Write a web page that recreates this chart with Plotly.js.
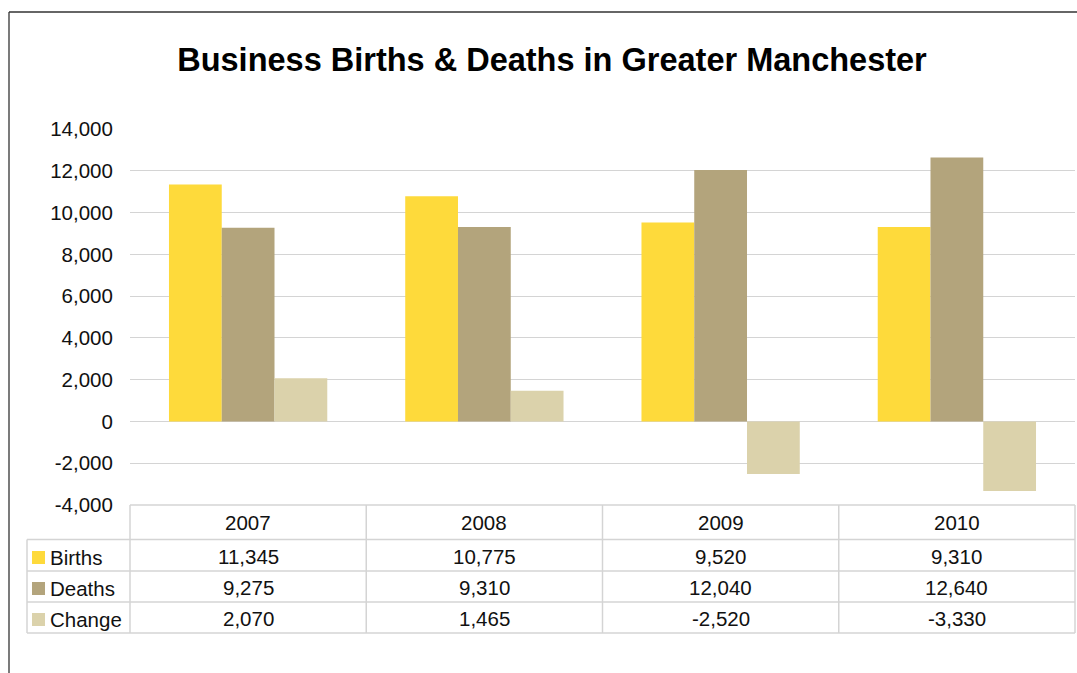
<!DOCTYPE html>
<html>
<head>
<meta charset="utf-8">
<script src="https://cdn.plot.ly/plotly-3.0.1.min.js"></script>
<style>
  html, body { margin: 0; padding: 0; background: #fff; }
  #chart { width: 1077px; height: 673px; }
</style>
</head>
<body>
<div id="chart"></div>
<script>
const years = ['2007', '2008', '2009', '2010'];
const births = [11345, 10775, 9520, 9310];
const deaths = [9275, 9310, 12040, 12640];
const change = [2070, 1465, -2520, -3330];
const seriesNames = ['Births', 'Deaths', 'Change'];
const seriesColors = ['#FEDA3B', '#B3A47C', '#DBD2AB'];
const yTicks = [-4000, -2000, 0, 2000, 4000, 6000, 8000, 10000, 12000, 14000];

const W = 1077, H = 673;
const L = 130, R = 1075, T = 129, B = 505;
const px = X => (X - L) / (R - L);
const py = Y => (B - Y) / (B - T);
const fmt = v => v.toLocaleString('en-US');

const FONT = 'Liberation Sans, Arial, Helvetica, sans-serif';
const FS = 20.5;
const seriesVals = [births, deaths, change];

const traces = seriesNames.map((n, i) => ({
  type: 'bar',
  name: n,
  x: years,
  y: seriesVals[i],
  marker: { color: seriesColors[i], line: { width: 0 } },
  hoverinfo: 'skip'
}));

const gridCol = '#d4d4d4';
const shapes = [];
const annotations = [];

// outer frame (left and top edges visible)
shapes.push({ type: 'line', xref: 'paper', yref: 'paper', x0: px(9), x1: px(W + 5), y0: py(12), y1: py(12), line: { color: '#333', width: 1.3 } });
shapes.push({ type: 'line', xref: 'paper', yref: 'paper', x0: px(9), x1: px(9), y0: py(12), y1: py(H + 5), line: { color: '#333', width: 1.3 } });

// data table lines
const rowY = [505, 539.5, 571, 602, 633];
shapes.push({ type: 'line', xref: 'paper', yref: 'paper', x0: 0, x1: 1, y0: py(rowY[0]), y1: py(rowY[0]), line: { color: gridCol, width: 1.5 } });
for (let r = 1; r < rowY.length; r++) {
  shapes.push({ type: 'line', xref: 'paper', yref: 'paper', x0: px(27), x1: 1, y0: py(rowY[r]), y1: py(rowY[r]), line: { color: gridCol, width: 1.5 } });
}
for (let c = 0; c <= years.length; c++) {
  const xv = c / years.length;
  shapes.push({ type: 'line', xref: 'paper', yref: 'paper', x0: xv, x1: xv, y0: py(rowY[0]), y1: py(rowY[4]), line: { color: gridCol, width: 1.5 } });
}
shapes.push({ type: 'line', xref: 'paper', yref: 'paper', x0: px(27), x1: px(27), y0: py(rowY[1]), y1: py(rowY[4]), line: { color: gridCol, width: 1.5 } });

const colX = i => (i + 0.5) / years.length;

// header years
years.forEach((yr, i) => {
  annotations.push({ xref: 'paper', yref: 'paper', x: colX(i), y: py(522), text: yr, showarrow: false, xanchor: 'center', yanchor: 'middle', font: { family: FONT, size: FS, color: '#111' } });
});
// rows
const rowCenters = [557.5, 588.5, 619.5];
seriesNames.forEach((n, r) => {
  const yc = rowCenters[r];
  shapes.push({ type: 'rect', xref: 'paper', yref: 'paper', x0: px(32), x1: px(45), y0: py(yc - 6.5), y1: py(yc + 6.5), fillcolor: seriesColors[r], line: { width: 0 } });
  annotations.push({ xref: 'paper', yref: 'paper', x: px(48), y: py(yc), text: n, showarrow: false, xanchor: 'left', yanchor: 'middle', font: { family: FONT, size: FS, color: '#111' } });
  seriesVals[r].forEach((v, i) => {
    annotations.push({ xref: 'paper', yref: 'paper', x: colX(i), y: py(yc - 1), text: fmt(v), showarrow: false, xanchor: 'center', yanchor: 'middle', font: { family: FONT, size: FS, color: '#111' } });
  });
});

const layout = {
  width: W, height: H,
  margin: { l: L, r: W - R, t: T, b: H - B, pad: 0 },
  paper_bgcolor: '#fff', plot_bgcolor: '#fff',
  showlegend: false,
  barmode: 'group', bargap: 0.33, bargroupgap: 0,
  title: { text: '<b>Business Births &amp; Deaths in Greater Manchester</b>', x: 552 / W, xanchor: 'center', xref: 'container', y: 1 - 60 / H, yanchor: 'middle', yref: 'container', font: { family: FONT, size: 32.5, color: '#000' } },
  xaxis: { type: 'category', range: [-0.5, 3.5], showticklabels: false, showgrid: false, showline: false, zeroline: false, ticks: '', fixedrange: true },
  yaxis: {
    range: [-4000, 14000], tickvals: yTicks, ticktext: yTicks.map(fmt),
    showgrid: true, gridcolor: gridCol, gridwidth: 1.2,
    zeroline: true, zerolinecolor: gridCol, zerolinewidth: 1.2,
    showline: false, ticks: 'outside', ticklen: 12, tickcolor: 'rgba(0,0,0,0)',
    tickfont: { family: FONT, size: FS, color: '#111' }, fixedrange: true
  },
  shapes: shapes,
  annotations: annotations
};

Plotly.newPlot('chart', traces, layout, { displayModeBar: false, staticPlot: true });
</script>
</body>
</html>
